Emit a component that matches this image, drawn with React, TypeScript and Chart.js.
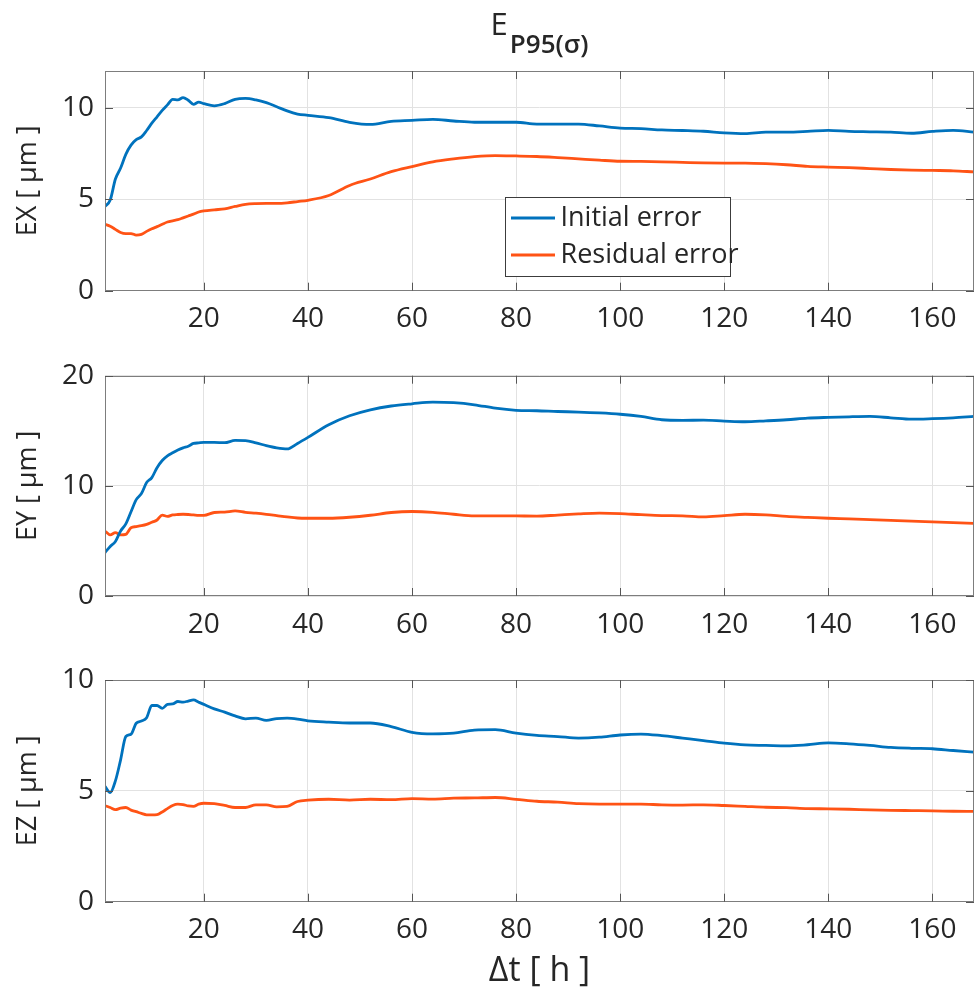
import React, { useEffect, useRef } from 'react';
import { Chart, registerables } from 'chart.js';

Chart.register(...registerables);

// ---------- data ----------
const hours = [1, 2, 3, 4, 5, 6, 7, 8, 9, 10, 11, 12, 13, 14, 15, 16, 17, 18, 19, 20,
  22, 24, 26, 28, 30, 32, 34, 36, 38, 40,
  44, 48, 52, 56, 60, 64, 68, 72, 76, 80, 84, 88, 92, 96, 100, 104, 108, 112, 116, 120,
  124, 128, 132, 136, 140, 144, 148, 152, 156, 160, 164, 168];

const exInitial = [4.6, 4.95, 6.1, 6.7, 7.45, 7.95, 8.25, 8.4, 8.75, 9.15, 9.5, 9.85, 10.15, 10.45, 10.42, 10.55, 10.4, 10.18, 10.3, 10.22,
  10.1, 10.22, 10.45, 10.5, 10.42, 10.27, 10.05, 9.82, 9.65, 9.58,
  9.45, 9.2, 9.08, 9.25, 9.3, 9.36, 9.27, 9.2, 9.2, 9.2, 9.1, 9.1, 9.1, 9.0, 8.88, 8.85, 8.78, 8.75, 8.71, 8.62,
  8.58, 8.66, 8.66, 8.7, 8.76, 8.7, 8.68, 8.66, 8.6, 8.7, 8.76, 8.66];

const exResidual = [3.63, 3.52, 3.35, 3.18, 3.12, 3.12, 3.04, 3.08, 3.24, 3.38, 3.5, 3.63, 3.75, 3.82, 3.88, 3.98, 4.08, 4.18, 4.3, 4.36,
  4.42, 4.47, 4.6, 4.72, 4.76, 4.77, 4.77, 4.8, 4.87, 4.94,
  5.2, 5.75, 6.1, 6.5, 6.78, 7.04, 7.2, 7.32, 7.38, 7.36, 7.33, 7.27, 7.2, 7.13, 7.07, 7.06, 7.04, 7.01, 6.98, 6.97,
  6.97, 6.94, 6.88, 6.79, 6.75, 6.72, 6.67, 6.62, 6.59, 6.57, 6.55, 6.49];

const eyInitial = [3.95, 4.5, 4.95, 5.9, 6.55, 7.65, 8.75, 9.3, 10.3, 10.75, 11.65, 12.3, 12.72, 13.0, 13.25, 13.45, 13.6, 13.85, 13.9, 13.94,
  13.94, 13.92, 14.12, 14.1, 13.9, 13.65, 13.45, 13.35, 13.85, 14.4,
  15.55, 16.36, 16.9, 17.25, 17.45, 17.6, 17.55, 17.36, 17.05, 16.86, 16.82, 16.75, 16.7, 16.62, 16.5, 16.3, 16.0, 15.95, 15.96, 15.88,
  15.82, 15.9, 16.0, 16.15, 16.22, 16.27, 16.3, 16.18, 16.05, 16.1, 16.18, 16.3];

const eyResidual = [5.9, 5.55, 5.75, 5.55, 5.6, 6.2, 6.3, 6.38, 6.5, 6.7, 6.9, 7.35, 7.22, 7.36, 7.4, 7.42, 7.4, 7.36, 7.32, 7.32,
  7.58, 7.62, 7.72, 7.6, 7.52, 7.42, 7.3, 7.18, 7.08, 7.06,
  7.06, 7.15, 7.33, 7.58, 7.67, 7.6, 7.42, 7.28, 7.28, 7.27, 7.25, 7.35, 7.45, 7.52, 7.48, 7.38, 7.3, 7.28, 7.18, 7.3,
  7.42, 7.36, 7.22, 7.14, 7.06, 7.0, 6.93, 6.86, 6.79, 6.73, 6.67, 6.6];

const ezInitial = [5.2, 4.92, 5.45, 6.4, 7.45, 7.55, 8.05, 8.15, 8.3, 8.85, 8.85, 8.72, 8.9, 8.92, 9.03, 9.0, 9.05, 9.1, 9.0, 8.9,
  8.7, 8.55, 8.38, 8.25, 8.28, 8.18, 8.26, 8.28, 8.24, 8.16,
  8.1, 8.06, 8.06, 7.9, 7.64, 7.57, 7.6, 7.74, 7.76, 7.6, 7.5, 7.45, 7.38, 7.42, 7.52, 7.56, 7.49, 7.38, 7.27, 7.15,
  7.07, 7.05, 7.03, 7.08, 7.16, 7.12, 7.05, 6.96, 6.92, 6.9, 6.82, 6.75];

const ezResidual = [4.33, 4.25, 4.15, 4.22, 4.25, 4.13, 4.06, 3.98, 3.92, 3.92, 3.93, 4.05, 4.2, 4.34, 4.4, 4.38, 4.32, 4.3, 4.4, 4.44,
  4.42, 4.34, 4.25, 4.25, 4.37, 4.37, 4.28, 4.3, 4.52, 4.58,
  4.62, 4.58, 4.62, 4.6, 4.65, 4.63, 4.67, 4.68, 4.7, 4.62, 4.53, 4.49, 4.42, 4.4, 4.4, 4.4, 4.37, 4.36, 4.37, 4.34,
  4.3, 4.26, 4.24, 4.2, 4.19, 4.17, 4.14, 4.12, 4.11, 4.1, 4.08, 4.07];

const xTickValues = [20, 40, 60, 80, 100, 120, 140, 160];
const exTickValues = [0, 5, 10];
const eyTickValues = [0, 10, 20];
const ezTickValues = [0, 5, 10];

const seriesNames = ['Initial error', 'Residual error'];
const yAxisLabels = ['EX [ μm ]', 'EY [ μm ]', 'EZ [ μm ]'];
const xAxisLabel = 'Δt [ h ]';
const titleMain = 'E';
const titleSub = 'P95(σ)';

// ---------- styles ----------
const BLUE = '#0072BD';
const ORANGE = '#FF5315';
const TEXT = '#262626';
const FONT = "'Open Sans', 'Noto Sans', sans-serif";

Chart.defaults.font.family = FONT;
Chart.defaults.color = TEXT;

const framePlugin = {
  id: 'frame',
  afterDatasetsDraw(chart: any) {
    const { ctx, chartArea: a, scales } = chart;
    ctx.save();
    ctx.strokeStyle = '#7d7d7d';
    ctx.lineWidth = 1;
    ctx.strokeRect(Math.round(a.left) + 0.5, Math.round(a.top) + 0.5,
      Math.round(a.right - a.left) - 1, Math.round(a.bottom - a.top) - 1);
    const tl = 8;
    ctx.strokeStyle = '#555';
    for (const t of scales.x.ticks) {
      const px = Math.round(scales.x.getPixelForValue(t.value)) + 0.5;
      ctx.beginPath();
      ctx.moveTo(px, a.top); ctx.lineTo(px, a.top + tl);
      ctx.moveTo(px, a.bottom); ctx.lineTo(px, a.bottom - tl);
      ctx.stroke();
    }
    for (const t of scales.y.ticks) {
      const py = Math.round(scales.y.getPixelForValue(t.value)) + 0.5;
      ctx.beginPath();
      ctx.moveTo(a.left, py); ctx.lineTo(a.left + tl, py);
      ctx.moveTo(a.right, py); ctx.lineTo(a.right - tl, py);
      ctx.stroke();
    }
    ctx.restore();
  },
};

const legendPlugin = {
  id: 'insideLegend',
  afterDraw(chart: any, _args: any, opts: any) {
    if (!opts || !opts.show) return;
    const { ctx, chartArea: a } = chart;
    const x0 = a.left + 400.5;
    const y0 = a.top + 126.5;
    const w = 225;
    const h = 79;
    ctx.save();
    ctx.fillStyle = '#ffffff';
    ctx.fillRect(x0, y0, w, h);
    ctx.strokeStyle = '#3c3c3c';
    ctx.lineWidth = 1;
    ctx.strokeRect(x0, y0, w, h);
    chart.data.datasets.forEach((ds: any, i: number) => {
      const cy = y0 + 20.5 + i * 37;
      ctx.strokeStyle = ds.borderColor;
      ctx.lineWidth = 3;
      ctx.beginPath();
      ctx.moveTo(x0 + 5.5, cy);
      ctx.lineTo(x0 + 49.5, cy);
      ctx.stroke();
      ctx.fillStyle = TEXT;
      ctx.font = `27px ${FONT}`;
      ctx.textBaseline = 'middle';
      ctx.textAlign = 'left';
      ctx.fillText(ds.label, x0 + 55, cy);
    });
    ctx.restore();
  },
};

const titlePlugin = {
  id: 'topTitle',
  afterDraw(chart: any, _args: any, opts: any) {
    if (!opts || !opts.show) return;
    const { ctx, chartArea: a } = chart;
    ctx.save();
    ctx.fillStyle = TEXT;
    ctx.textBaseline = 'alphabetic';
    ctx.textAlign = 'left';
    const mainFont = `400 31px ${FONT}`;
    const subFont = `600 26px ${FONT}`;
    ctx.font = mainFont;
    const w1 = ctx.measureText(titleMain).width;
    ctx.font = subFont;
    const w2 = ctx.measureText(titleSub).width;
    const cx = (a.left + a.right) / 2;
    const sx = cx - (w1 + w2 + 2) / 2;
    ctx.font = mainFont;
    ctx.fillText(titleMain, sx, 35);
    ctx.font = subFont;
    ctx.fillText(titleSub, sx + w1 + 2, 53);
    ctx.restore();
  },
};

type PanelSpec = {
  yLabel: string;
  initial: number[];
  residual: number[];
  yMax: number;
  yTicks: number[];
  top: number;
  height: number;
  padTop: number;
  xAxisH: number;
  legend: boolean;
  title: boolean;
  xTitle: boolean;
};

const panels: PanelSpec[] = [
  { yLabel: yAxisLabels[0], initial: exInitial, residual: exResidual, yMax: 12, yTicks: exTickValues,
    top: 0, height: 340, padTop: 71, xAxisH: 49.3, legend: true, title: true, xTitle: false },
  { yLabel: yAxisLabels[1], initial: eyInitial, residual: eyResidual, yMax: 20, yTicks: eyTickValues,
    top: 340, height: 305, padTop: 35.7, xAxisH: 49, legend: false, title: false, xTitle: false },
  { yLabel: yAxisLabels[2], initial: ezInitial, residual: ezResidual, yMax: 10, yTicks: ezTickValues,
    top: 645, height: 348, padTop: 35, xAxisH: 91.3, legend: false, title: false, xTitle: true },
];

function Panel({ spec }: { spec: PanelSpec }) {
  const ref = useRef<HTMLCanvasElement>(null);
  useEffect(() => {
    const canvas = ref.current;
    if (!canvas) return;
    const chart = new Chart(canvas, {
      type: 'line',
      data: {
        datasets: [
          {
            label: seriesNames[0],
            data: hours.map((h, i) => ({ x: h, y: spec.initial[i] })),
            borderColor: BLUE,
            backgroundColor: BLUE,
            borderWidth: 2.8,
            pointRadius: 0,
            cubicInterpolationMode: 'monotone',
            fill: false,
          },
          {
            label: seriesNames[1],
            data: hours.map((h, i) => ({ x: h, y: spec.residual[i] })),
            borderColor: ORANGE,
            backgroundColor: ORANGE,
            borderWidth: 2.8,
            pointRadius: 0,
            cubicInterpolationMode: 'monotone',
            fill: false,
          },
        ],
      },
      options: {
        animation: false,
        responsive: false,
        maintainAspectRatio: false,
        devicePixelRatio: 1,
        layout: { padding: { left: 0, right: 1, top: spec.padTop, bottom: 0 } },
        plugins: {
          legend: { display: false },
          tooltip: { enabled: false },
          insideLegend: { show: spec.legend },
          topTitle: { show: spec.title },
        } as any,
        scales: {
          x: {
            type: 'linear',
            min: 1,
            max: 168,
            afterBuildTicks: (axis: any) => {
              axis.ticks = xTickValues.map((v) => ({ value: v }));
            },
            afterFit: (axis: any) => {
              axis.height = spec.xAxisH;
            },
            grid: { color: '#e2e2e2', lineWidth: 1, drawTicks: false },
            border: { display: false },
            ticks: {
              font: { size: 28 },
              color: TEXT,
              padding: 12,
              maxRotation: 0,
              autoSkip: false,
              callback: (v: any) => String(v),
            },
            title: {
              display: spec.xTitle,
              text: xAxisLabel,
              font: { size: 34 },
              color: TEXT,
              padding: { top: 0, bottom: 1 },
            },
          },
          y: {
            type: 'linear',
            min: 0,
            max: spec.yMax,
            afterBuildTicks: (axis: any) => {
              axis.ticks = spec.yTicks.map((v) => ({ value: v }));
            },
            afterFit: (axis: any) => {
              axis.width = 105;
            },
            grid: { color: '#e2e2e2', lineWidth: 1, drawTicks: false },
            border: { display: false },
            ticks: {
              font: { size: 28 },
              color: TEXT,
              padding: 11,
              callback: (v: any) => String(v),
            },
            title: {
              display: true,
              text: spec.yLabel,
              font: { size: 27 },
              color: TEXT,
              padding: { top: 12, bottom: 0 },
            },
          },
        },
      },
      plugins: [framePlugin, legendPlugin, titlePlugin],
    } as any);
    return () => chart.destroy();
  }, [spec]);
  return (
    <canvas
      ref={ref}
      width={975}
      height={spec.height}
      style={{ position: 'absolute', left: 0, top: spec.top, width: 975, height: spec.height, display: 'block' }}
    />
  );
}

export default function App() {
  return (
    <div style={{ position: 'absolute', left: 0, top: 0, width: 975, height: 993, background: '#ffffff', overflow: 'hidden' }}>
      {panels.map((p, i) => (
        <Panel key={i} spec={p} />
      ))}
    </div>
  );
}
